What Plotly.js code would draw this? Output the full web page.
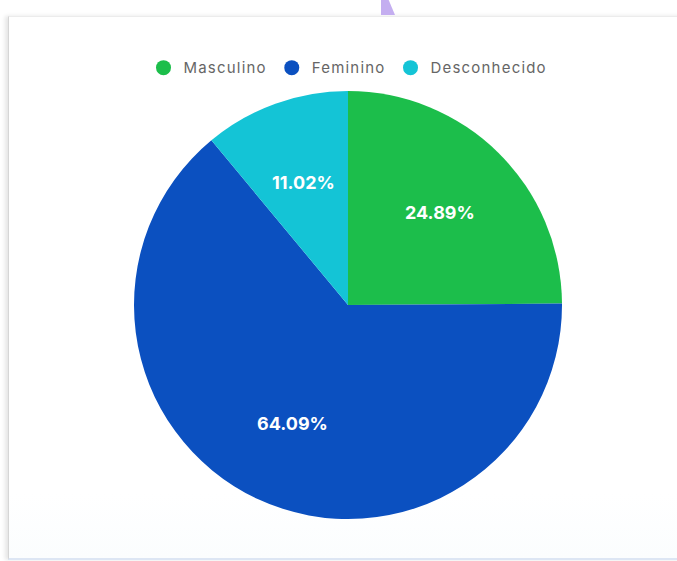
<!DOCTYPE html>
<html>
<head>
<meta charset="utf-8">
<script src="https://cdn.plot.ly/plotly-3.0.1.min.js"></script>
<style>
  html, body { margin: 0; padding: 0; background: #ffffff; width: 677px; height: 561px; overflow: hidden; }
  #card { position: absolute; left: 8px; top: 16px; width: 680px; height: 541px;
          background: linear-gradient(#ffffff 0%, #ffffff 88%, #fbfdfe 100%);
          border-top: 1px solid #ececec; border-left: 1px solid #d6d6d6;
          border-bottom: 2px solid #dde6f4; box-shadow: -3px 0 4px rgba(0,0,0,0.10); }
  #deco { position: absolute; left: 381px; top: 0; width: 14px; height: 15px;
          background: #c4aef0; clip-path: polygon(0 0, 55% 0, 100% 100%, 0 100%); }
  #chart { position: absolute; left: 0; top: 0; width: 677px; height: 561px; }
  .legendtext { letter-spacing: 1.2px; }
</style>
</head>
<body>
<div id="card"></div>
<div id="deco"></div>
<div id="chart"></div>
<script>
const categories = ["Masculino", "Feminino", "Desconhecido"];
const values = [24.89, 64.09, 11.02];
const colors = ["#1cbe4b", "#0b50c0", "#14c4d6"];

const total = values.reduce((a, b) => a + b, 0);

const pie = {
  type: "pie",
  labels: categories,
  values: values,
  marker: { colors: colors, line: { width: 0 } },
  sort: false,
  direction: "clockwise",
  rotation: 0,
  textinfo: "none",
  hoverinfo: "none",
  showlegend: false
};

const legendTraces = categories.map((c, i) => ({
  type: "scatter",
  mode: "markers",
  x: [null], y: [null],
  name: c,
  marker: { color: colors[i], size: 15, symbol: "circle" },
  hoverinfo: "none"
}));

// percentage labels placed along each slice's mid-angle through the (hidden) axes
const labelRadius = 0.61;
let cum = 0;
const annotations = values.map((v) => {
  const mid = (cum + v / 2) / total * 2 * Math.PI;
  cum += v;
  return {
    x: labelRadius * Math.sin(mid),
    y: labelRadius * Math.cos(mid),
    xref: "x", yref: "y",
    text: (v / total * 100).toFixed(2) + "%",
    showarrow: false,
    font: { family: "Inter, 'Open Sans', sans-serif", size: 18, color: "#ffffff", weight: "bold" }
  };
});

const layout = {
  width: 677, height: 561,
  margin: { l: 134, r: 115, t: 91, b: 42 },
  paper_bgcolor: "rgba(0,0,0,0)",
  plot_bgcolor: "rgba(0,0,0,0)",
  xaxis: { visible: false, range: [-1, 1], fixedrange: true },
  yaxis: { visible: false, range: [-1, 1], fixedrange: true },
  annotations: annotations,
  showlegend: true,
  legend: {
    orientation: "h",
    x: 0.5, xanchor: "center",
    y: 1.054, yanchor: "middle",
    font: { family: "Inter, 'Open Sans', sans-serif", size: 15, color: "#666666" },
    itemwidth: 30,
    tracegroupgap: 0
  }
};

Plotly.newPlot("chart", [pie, ...legendTraces], layout, { displayModeBar: false, staticPlot: true });
</script>
</body>
</html>
